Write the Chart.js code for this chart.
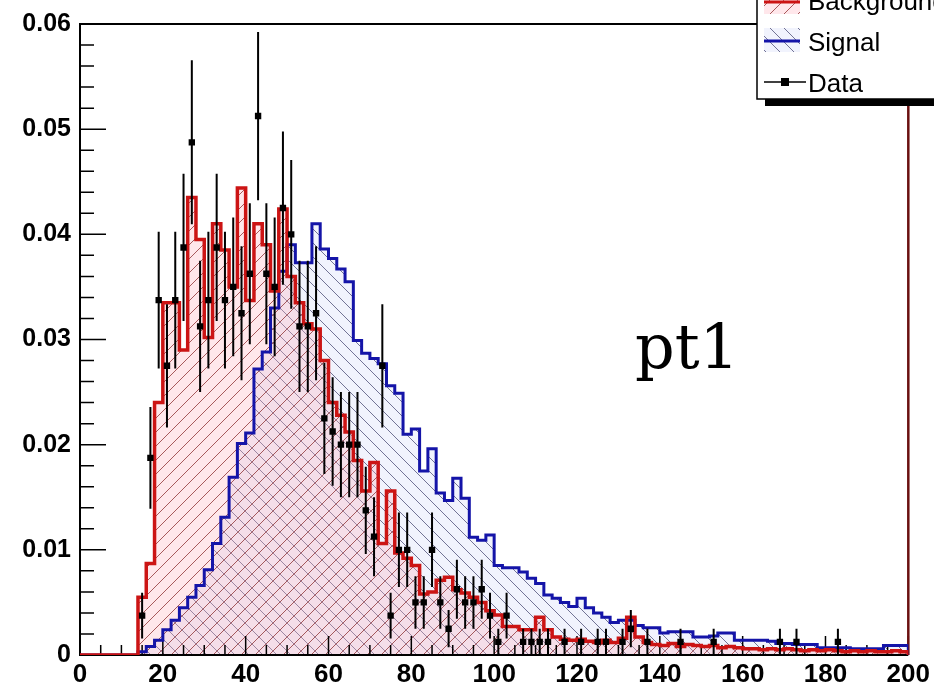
<!DOCTYPE html>
<html>
<head>
<meta charset="utf-8">
<script src="https://cdn.jsdelivr.net/npm/chart.js@4.4.0/dist/chart.umd.min.js"></script>
<style>
  html, body { margin: 0; padding: 0; background: #fff; }
  #wrap { width: 934px; height: 686px; }
</style>
</head>
<body>
<div id="wrap"><canvas id="c"></canvas></div>
<script>
// histogram binning: 100 bins of width 2 from 0 to 200
const binWidth = 2;
const nBins = 100;

// background (red) bin contents
const background = [
  0, 0, 0, 0, 0, 0, 0, 0.0055, 0.0087, 0.024,
  0.0335, 0.0335, 0.029, 0.0435, 0.0395, 0.0302, 0.041, 0.0385, 0.035, 0.0444,
  0.0337, 0.041, 0.039, 0.0346, 0.0424, 0.036, 0.0335, 0.0315, 0.031, 0.028,
  0.024, 0.0228, 0.0212, 0.0185, 0.0156, 0.0183, 0.0106, 0.0156, 0.0097, 0.0092,
  0.0085, 0.0058, 0.006, 0.0071, 0.0074, 0.0062, 0.0059, 0.0055, 0.005, 0.0042,
  0.0038, 0.0027, 0.0027, 0.0024, 0.0024, 0.0036, 0.0024, 0.0017, 0.0015, 0.0014,
  0.0015, 0.0013, 0.0012, 0.0014, 0.0012, 0.0016, 0.0036, 0.0017, 0.0012, 0.001,
  0.0009, 0.0011, 0.0008, 0.001, 0.0009, 0.0008, 0.0009, 0.0007, 0.0008, 0.0007,
  0.0006, 0.0006, 0.0005, 0.0006, 0.0005, 0.0006, 0.0005, 0.0004, 0.0005, 0.0004,
  0.0005, 0.0004, 0.0003, 0.0004, 0.0003, 0.0004, 0.0003, 0.0003, 0.0004, 0.0003
];

// signal (blue) bin contents
const signal = [
  0, 0, 0, 0, 0, 0, 0, 0.0003, 0.0008, 0.0014,
  0.0024, 0.0033, 0.0045, 0.0055, 0.0066, 0.0081, 0.0106, 0.0131, 0.0169, 0.0201,
  0.0211, 0.0272, 0.0288, 0.033, 0.0365, 0.039, 0.0373, 0.0373, 0.041, 0.0386,
  0.0377, 0.0367, 0.0355, 0.0299, 0.0287, 0.0282, 0.0277, 0.0256, 0.0249, 0.021,
  0.0215, 0.0175, 0.0196, 0.0154, 0.0147, 0.0168, 0.0149, 0.0112, 0.0109, 0.0114,
  0.0085, 0.0083, 0.0083, 0.0079, 0.0073, 0.0068, 0.0057, 0.0054, 0.005, 0.0046,
  0.0054, 0.0045, 0.004, 0.0036, 0.0031, 0.0033, 0.0033, 0.0028, 0.0026, 0.0026,
  0.0021, 0.0022, 0.0022, 0.0022, 0.0017, 0.0017, 0.0018, 0.0021, 0.0021, 0.0014,
  0.0014, 0.0014, 0.0014, 0.0013, 0.0011, 0.0011, 0.001, 0.001, 0.001, 0.0007,
  0.0007, 0.0007, 0.0007, 0.0006, 0.0006, 0.0006, 0.0006, 0.0009, 0.0009, 0.0009
];

// data points (null = empty bin) and their errors
const dataVals = [
  null, null, null, null, null, null, null, 0.00375, 0.01875, 0.03375,
  0.0275, 0.03375, 0.03875, 0.04875, 0.03125, 0.03375, 0.03875, 0.03375, 0.035, 0.0325,
  0.03625, 0.05125, 0.03625, 0.035, 0.0425, 0.04, 0.03125, 0.03125, 0.0325, 0.0225,
  0.02125, 0.02, 0.02, 0.02, 0.01375, 0.01125, 0.0275, 0.00375, 0.01, 0.01,
  0.005, 0.005, 0.01, 0.005, 0.0025, 0.00625, 0.005, 0.005, 0.00625, 0.00375,
  0.00125, 0.00375, null, 0.00125, 0.00125, 0.00125, 0.00125, null, 0.00125, null,
  0.00125, null, 0.00125, 0.00125, null, 0.00125, 0.0025, null, 0.00125, null,
  null, null, 0.00125, null, null, null, 0.00125, null, null, null,
  null, null, null, null, 0.00125, null, 0.00125, null, null, null,
  null, 0.00125, null, null, null, null, null, null, null, null
];
const dataErr = [
  null, null, null, null, null, null, null, 0.00217, 0.00484, 0.0065,
  0.00586, 0.0065, 0.007, 0.0078, 0.00625, 0.0065, 0.007, 0.0065, 0.0066, 0.00637,
  0.0067, 0.008, 0.0067, 0.0066, 0.00729, 0.00707, 0.00625, 0.00625, 0.00637, 0.0053,
  0.00515, 0.005, 0.005, 0.005, 0.00415, 0.00375, 0.00586, 0.00217, 0.00354, 0.00354,
  0.0025, 0.0025, 0.00354, 0.0025, 0.00177, 0.0028, 0.0025, 0.0025, 0.0028, 0.00217,
  0.00125, 0.00217, null, 0.00125, 0.00125, 0.00125, 0.00125, null, 0.00125, null,
  0.00125, null, 0.00125, 0.00125, null, 0.00125, 0.00177, null, 0.00125, null,
  null, null, 0.00125, null, null, null, 0.00125, null, null, null,
  null, null, null, null, 0.00125, null, 0.00125, null, null, null,
  null, 0.00125, null, null, null, null, null, null, null, null
];

const xTicks = [0, 20, 40, 60, 80, 100, 120, 140, 160, 180, 200];
const yTicks = [0, 0.01, 0.02, 0.03, 0.04, 0.05, 0.06];
const legendLabels = ['Background', 'Signal', 'Data'];
const plotLabel = 'pt1';

const RED = '#cc1414';
const BLUE = '#1414a8';

const canvas = document.getElementById('c');
const mainCtx = canvas.getContext('2d');

// hatch pattern like ROOT fill styles 3004 / 3005
function hatch(dir, bg, fg) {
  const s = 14;
  const c = document.createElement('canvas');
  c.width = s; c.height = s;
  const g = c.getContext('2d');
  g.fillStyle = bg;
  g.fillRect(0, 0, s, s);
  g.strokeStyle = fg;
  g.lineWidth = 1;
  g.beginPath();
  if (dir === '/') {
    g.moveTo(-1, s + 1); g.lineTo(s + 1, -1);
    g.moveTo(-2, 2); g.lineTo(2, -2);
    g.moveTo(s - 2, s + 2); g.lineTo(s + 2, s - 2);
  } else {
    g.moveTo(-1, -1); g.lineTo(s + 1, s + 1);
    g.moveTo(-2, s - 2); g.lineTo(2, s + 2);
    g.moveTo(s - 2, -2); g.lineTo(s + 2, 2);
  }
  g.stroke();
  return mainCtx.createPattern(c, 'repeat');
}

const redHatch = hatch('/', 'rgba(255,175,190,0.3)', 'rgba(130,30,30,0.7)');
const blueHatch = hatch('\\', 'rgba(190,200,245,0.22)', 'rgba(30,30,80,0.6)');

function histPoints(vals) {
  const pts = [];
  for (let i = 0; i <= nBins; i++) {
    pts.push({ x: i * binWidth, y: i < nBins ? vals[i] : 0 });
  }
  return pts;
}

const dataPoints = [];
dataVals.forEach((v, i) => {
  if (v !== null) dataPoints.push({ x: i * binWidth + binWidth / 2, y: v });
});

// frame, ticks (pointing inward), error bars, legend, label
const framePlugin = {
  id: 'frame',
  beforeDatasetsDraw(chart) {
    const { ctx, chartArea: a, scales: { x, y } } = chart;
    ctx.save();
    ctx.strokeStyle = '#000';
    ctx.lineWidth = 1.5;
    ctx.beginPath();
    for (let v = 0; v <= 200.001; v += 5) {
      const px = x.getPixelForValue(v);
      const len = (Math.round(v) % 20 === 0) ? 19 : 10;
      ctx.moveTo(px, a.bottom);
      ctx.lineTo(px, a.bottom - len);
    }
    for (let k = 0; k <= 30; k++) {
      const py = y.getPixelForValue(k * 0.002);
      const len = (k % 5 === 0) ? 26 : 14;
      ctx.moveTo(a.left, py);
      ctx.lineTo(a.left + len, py);
    }
    ctx.stroke();
    ctx.lineWidth = 2;
    ctx.beginPath();
    ctx.moveTo(a.right, a.top);
    ctx.lineTo(a.left, a.top);
    ctx.lineTo(a.left, a.bottom);
    ctx.lineTo(a.right, a.bottom);
    ctx.stroke();
    ctx.strokeStyle = '#6a1010';
    ctx.lineWidth = 2.5;
    ctx.beginPath();
    ctx.moveTo(a.right, a.top);
    ctx.lineTo(a.right, a.bottom);
    ctx.stroke();
    ctx.restore();
  },
  afterDatasetsDraw(chart) {
    const { ctx, scales: { x, y } } = chart;
    ctx.save();
    ctx.strokeStyle = '#000';
    ctx.lineWidth = 2;
    ctx.beginPath();
    dataVals.forEach((v, i) => {
      if (v === null) return;
      const px = x.getPixelForValue(i * binWidth + binWidth / 2);
      ctx.moveTo(px, y.getPixelForValue(v - dataErr[i]));
      ctx.lineTo(px, y.getPixelForValue(v + dataErr[i]));
    });
    ctx.stroke();
    ctx.restore();
  },
  afterDraw(chart) {
    const { ctx } = chart;
    ctx.save();
    // legend box with shadow
    ctx.fillStyle = '#000';
    ctx.fillRect(765, 99, 175, 7);
    ctx.fillStyle = '#fff';
    ctx.fillRect(757, -10, 190, 109);
    ctx.strokeStyle = '#000';
    ctx.lineWidth = 1.5;
    ctx.strokeRect(757, -10, 190, 109);

    // background swatch
    ctx.fillStyle = redHatch;
    ctx.fillRect(764, -10, 36, 24);
    ctx.strokeStyle = RED;
    ctx.lineWidth = 3;
    ctx.beginPath(); ctx.moveTo(764, 2); ctx.lineTo(800, 2); ctx.stroke();
    // signal swatch
    ctx.fillStyle = blueHatch;
    ctx.fillRect(764, 28, 36, 24);
    ctx.strokeStyle = BLUE;
    ctx.beginPath(); ctx.moveTo(764, 41); ctx.lineTo(800, 41); ctx.stroke();
    // data swatch
    ctx.strokeStyle = '#000';
    ctx.lineWidth = 1.5;
    ctx.beginPath(); ctx.moveTo(764, 82); ctx.lineTo(806, 82); ctx.stroke();
    ctx.fillStyle = '#000';
    ctx.fillRect(781, 78, 8, 8);

    ctx.fillStyle = '#000';
    ctx.font = '26px "Liberation Sans", Arial, sans-serif';
    ctx.textBaseline = 'alphabetic';
    ctx.textAlign = 'left';
    ctx.fillText(legendLabels[0], 808, 10);
    ctx.fillText(legendLabels[1], 808, 51);
    ctx.fillText(legendLabels[2], 808, 92);

    // plot label
    ctx.font = '62px "DejaVu Serif", serif';
    ctx.fillText(plotLabel, 635, 368);
    ctx.restore();
  }
};

new Chart(canvas, {
  type: 'line',
  data: {
    datasets: [
      {
        type: 'scatter',
        label: legendLabels[2],
        data: dataPoints,
        pointStyle: 'rect',
        pointRadius: 4.5,
        pointBackgroundColor: '#000',
        pointBorderColor: '#000',
        pointBorderWidth: 0,
        showLine: false
      },
      {
        label: legendLabels[0],
        data: histPoints(background),
        stepped: true,
        borderColor: RED,
        borderWidth: 3.5,
        backgroundColor: redHatch,
        fill: 'origin',
        pointRadius: 0
      },
      {
        label: legendLabels[1],
        data: histPoints(signal),
        stepped: true,
        borderColor: BLUE,
        borderWidth: 3,
        backgroundColor: blueHatch,
        fill: 'origin',
        pointRadius: 0
      }
    ]
  },
  options: {
    responsive: true,
    maintainAspectRatio: false,
    animation: false,
    events: [],
    layout: { padding: { top: 22, right: 23, left: 0, bottom: 0 } },
    plugins: {
      legend: { display: false },
      tooltip: { enabled: false },
      filler: { drawTime: 'beforeDatasetsDraw' }
    },
    scales: {
      x: {
        type: 'linear',
        min: 0,
        max: 200,
        afterBuildTicks(scale) { scale.ticks = xTicks.map(v => ({ value: v })); },
        afterFit(scale) { scale.height = 31; },
        grid: { display: false, drawTicks: false },
        border: { display: false },
        ticks: {
          autoSkip: false,
          maxRotation: 0,
          padding: 4,
          color: '#000',
          font: { family: '"Liberation Sans", Arial, sans-serif', size: 26, weight: 'bold' }
        }
      },
      y: {
        type: 'linear',
        min: 0,
        max: 0.06,
        afterBuildTicks(scale) { scale.ticks = yTicks.map(v => ({ value: v })); },
        afterFit(scale) { scale.width = 80; },
        grid: { display: false, drawTicks: false },
        border: { display: false },
        ticks: {
          autoSkip: false,
          padding: 9,
          color: '#000',
          font: { family: '"Liberation Sans", Arial, sans-serif', size: 25, weight: 'bold' },
          callback: v => (v === 0 ? '0' : v.toFixed(2))
        }
      }
    }
  },
  plugins: [framePlugin]
});
</script>
</body>
</html>
